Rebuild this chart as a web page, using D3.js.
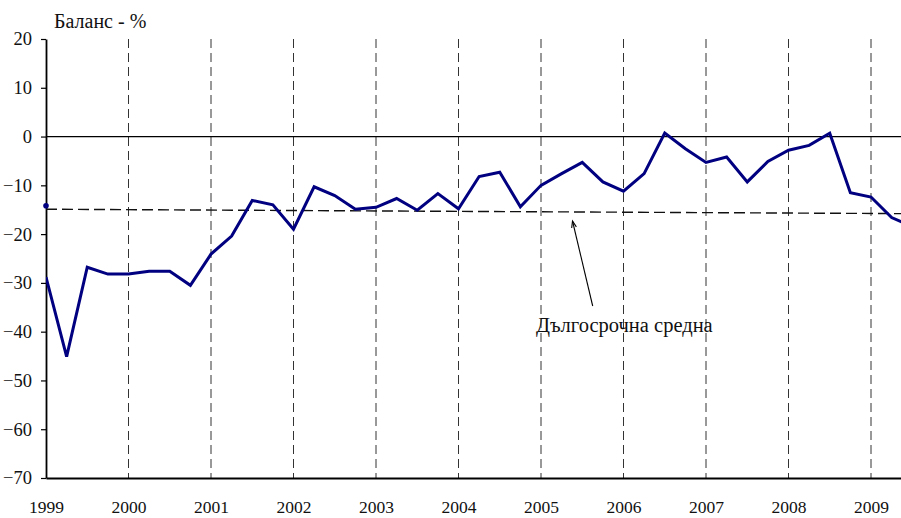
<!DOCTYPE html>
<html><head><meta charset="utf-8">
<script src="https://cdn.jsdelivr.net/npm/d3@7"></script>
<style>body{margin:0;background:#fff}svg{display:block}</style>
</head><body><svg id="c" width="901" height="518"></svg>
<script>
// quarterly balance values, starting 1999 Q1
const startYear = 1999;
const values = [-28.8,-45.1,-26.8,-28.2, -28.2,-27.6,-27.6,-30.5, -24.1,-20.4,-13.1,-14.0,
  -19.0,-10.3,-12.1,-14.9, -14.5,-12.7,-15.1,-11.7, -14.8,-8.2,-7.3,-14.4,
  -10.0,-7.6,-5.3,-9.3, -11.2,-7.6,0.7,-2.5, -5.3,-4.2,-9.3,-5.1,
  -2.8,-1.8,0.7,-11.5, -12.4,-16.6,-18.4];
const avgLine = [-14.9, -15.8]; // long-term average at left and right edge
const startMarker = -14.2;
const yTicks = [20,10,0,-10,-20,-30,-40,-50,-60,-70];
const yearLabels = [1999,2000,2001,2002,2003,2004,2005,2006,2007,2008,2009];
const yTitle = "Баланс - %";
const annotation = "Дългосрочна средна";

const FONT = "Liberation Serif";
const svg = d3.select("#c");
const L = 46, R = 901, T = 39, B = 478;
const x = d3.scaleLinear().domain([1999, 1999 + (R - L) / 82.5]).range([L, R]);
const y = d3.scaleLinear().domain([-70, 20]).range([B, T]);

svg.append("defs").append("clipPath").attr("id","clip")
  .append("rect").attr("x",L).attr("y",0).attr("width",R-L).attr("height",518);

// vertical dashed year gridlines
svg.append("g").selectAll("line").data(yearLabels.slice(1)).join("line")
  .attr("x1",d=>x(d)).attr("x2",d=>x(d)).attr("y1",T).attr("y2",B)
  .attr("stroke","#333").attr("stroke-width",1).attr("stroke-dasharray","9,5");

// zero line
svg.append("line").attr("x1",L).attr("x2",R).attr("y1",y(0)).attr("y2",y(0))
  .attr("stroke","#000").attr("stroke-width",1.2);

// y axis
const yAxis = d3.axisLeft(y).tickValues(yTicks).tickSize(5).tickSizeOuter(0).tickPadding(9);
const gy = svg.append("g").attr("transform",`translate(${L},0)`).call(yAxis)
  .attr("font-family", FONT).attr("font-size", 18.5);
gy.select(".domain").attr("stroke","#000").attr("stroke-width",1.8);
gy.selectAll(".tick line").attr("stroke","#000").attr("stroke-width",1.2);
gy.selectAll(".tick text").attr("fill","#111");

// x axis
const xAxis = d3.axisBottom(x).tickValues(yearLabels).tickFormat(d3.format("d")).tickSize(0).tickPadding(23);
const gx = svg.append("g").attr("transform",`translate(0,${B})`).call(xAxis)
  .attr("font-family", FONT).attr("font-size", 17.5);
gx.select(".domain").attr("stroke","#000").attr("stroke-width",1.8);
gx.selectAll(".tick text").attr("fill","#111");

// long term average
svg.append("line").attr("x1",x.range()[0]).attr("x2",x.range()[1])
  .attr("y1",y(avgLine[0])).attr("y2",y(avgLine[1]))
  .attr("stroke","#111").attr("stroke-width",1.4).attr("stroke-dasharray","11,5");

// main line
const line = d3.line().x((d,i)=>x(startYear + i/4)).y(d=>y(d));
svg.append("path").datum(values).attr("d",line).attr("clip-path","url(#clip)")
  .attr("fill","none").attr("stroke","#000080").attr("stroke-width",3).attr("stroke-linejoin","miter");

svg.append("circle").attr("cx",x(startYear)).attr("cy",y(startMarker)).attr("r",2.8).attr("fill","#000080");

// title
svg.append("text").attr("x",54).attr("y",28).attr("font-family",FONT).attr("font-size",20).attr("fill","#111").text(yTitle);

// annotation
svg.append("text").attr("x",536).attr("y",332).attr("font-family",FONT).attr("font-size",20.5).attr("fill","#111").text(annotation);
const ax1 = 592.7, ay1 = 306, ax2 = 572.5, ay2 = 221;
svg.append("line").attr("x1",ax1).attr("y1",ay1).attr("x2",ax2).attr("y2",ay2).attr("stroke","#000").attr("stroke-width",1.1);
const ang = Math.atan2(ay1-ay2, ax1-ax2);
const ah = 7, aw = 0.35;
svg.append("path").attr("d",`M${ax2+ah*Math.cos(ang-aw)},${ay2+ah*Math.sin(ang-aw)} L${ax2},${ay2} L${ax2+ah*Math.cos(ang+aw)},${ay2+ah*Math.sin(ang+aw)}`)
  .attr("fill","none").attr("stroke","#000").attr("stroke-width",1.1);
</script></body></html>
